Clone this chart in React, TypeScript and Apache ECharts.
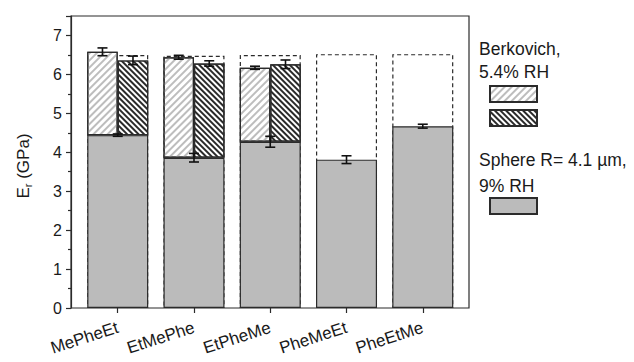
import React, { useEffect, useRef } from "react";
import * as echarts from "echarts";

const categories = ["MePheEt", "EtMePhe", "EtPheMe", "PheMeEt", "PheEtMe"];
const sphereValues = [4.44, 3.86, 4.27, 3.81, 4.67];
const sphereErrors = [0.03, 0.11, 0.14, 0.1, 0.05];
const berkLightValues: (number | null)[] = [6.58, 6.44, 6.17, null, null];
const berkLightErrors: (number | null)[] = [0.1, 0.05, 0.04, null, null];
const berkDarkValues: (number | null)[] = [6.36, 6.28, 6.26, null, null];
const berkDarkErrors: (number | null)[] = [0.11, 0.07, 0.11, null, null];
const referenceValues = [6.5, 6.48, 6.5, 6.52, 6.52];
const yTicks = [0, 1, 2, 3, 4, 5, 6, 7];

const FONT = "'Liberation Sans', Arial, sans-serif";
const INK = "#2b2b2b";

export default function App() {
  const ref = useRef<HTMLDivElement>(null);
  useEffect(() => {
    if (!ref.current) return;
    const chart = echarts.init(ref.current, undefined, { renderer: "svg" });

    const errData: number[][] = [];
    categories.forEach((_, i) => {
      errData.push([i, sphereValues[i], sphereErrors[i], 0]);
      if (berkLightValues[i] != null) errData.push([i, berkLightValues[i] as number, berkLightErrors[i] as number, -0.2]);
      if (berkDarkValues[i] != null) errData.push([i, berkDarkValues[i] as number, berkDarkErrors[i] as number, 0.2]);
    });
    const lightDiff = berkLightValues.map((v, i) => (v == null ? null : v - sphereValues[i]));
    const darkDiff = berkDarkValues.map((v, i) => (v == null ? null : v - sphereValues[i]));

    const lightDecal = {
      symbol: "rect",
      symbolSize: 1,
      dashArrayX: [1, 0],
      dashArrayY: [1.6, 2.6],
      rotation: -Math.PI / 4,
      color: "#bdbdbd",
    };
    const darkDecal = {
      symbol: "rect",
      symbolSize: 1,
      dashArrayX: [1, 0],
      dashArrayY: [2, 2],
      rotation: Math.PI / 4,
      color: "#2a2a2a",
    };

    const option: any = {
      animation: false,
      textStyle: { fontFamily: FONT },
      grid: [
        { left: 71, top: 16, width: 398, height: 292, show: true, borderColor: INK, borderWidth: 1.2, backgroundColor: "transparent" },
        { left: 79.6, top: 16, width: 381.3, height: 292 },
      ],
      xAxis: [
        { gridIndex: 0, type: "value", min: 0, max: 1, show: false },
        {
          gridIndex: 1,
          type: "category",
          data: categories,
          axisLine: { show: false },
          axisTick: { show: true, alignWithLabel: true, length: 5, lineStyle: { color: INK, width: 1.2 } },
          axisLabel: { rotate: 18, margin: 19, fontSize: 17, color: "#1a1a1a", fontFamily: FONT },
          splitLine: { show: false },
        },
        { gridIndex: 1, type: "category", data: categories, show: false },
      ],
      yAxis: [
        {
          gridIndex: 0,
          type: "value",
          min: 0,
          max: 7.5,
          interval: 1,
          axisLine: { show: true, lineStyle: { color: INK, width: 1.2 } },
          axisTick: { show: true, length: 5, lineStyle: { color: INK, width: 1.2 } },
          minorTick: { show: true, splitNumber: 2, length: 3, lineStyle: { color: INK, width: 1.2 } },
          axisLabel: {
            margin: 9,
            fontSize: 16,
            color: "#1a1a1a",
            fontFamily: FONT,
            formatter: (v: number) => (yTicks.includes(v) ? String(v) : ""),
          },
          splitLine: { show: false },
        },
        { gridIndex: 1, type: "value", min: 0, max: 7.5, show: false },
      ],
      legend: [
        {
          data: ["Berkovich light", "Berkovich dark"],
          orient: "vertical",
          left: 489,
          top: 85,
          padding: 0,
          itemWidth: 47,
          itemHeight: 16,
          itemGap: 6,
          icon: "rect",
          selectedMode: false,
          formatter: () => "",
          textStyle: { fontSize: 1 },
        },
        {
          data: ["Sphere"],
          orient: "vertical",
          left: 489,
          top: 197,
          padding: 0,
          itemWidth: 47,
          itemHeight: 16,
          icon: "rect",
          selectedMode: false,
          formatter: () => "",
          textStyle: { fontSize: 1 },
        },
      ],
      graphic: [
        {
          type: "text",
          x: 23,
          y: 166,
          rotation: Math.PI / 2,
          style: {
            text: "{e|E}{s|r}{e| (GPa)}",
            align: "center",
            verticalAlign: "middle",
            fill: "#1a1a1a",
            fontSize: 17,
            fontFamily: FONT,
            rich: {
              e: { fontSize: 17, fontFamily: FONT, fill: "#1a1a1a" },
              s: { fontSize: 11, fontFamily: FONT, fill: "#1a1a1a", padding: [9, 0, 0, 0] },
            },
          },
        },
        { type: "text", x: 479, y: 40, style: { text: "Berkovich,", fontSize: 17.5, fontFamily: FONT, fill: "#1a1a1a", verticalAlign: "top" } },
        { type: "text", x: 479, y: 63, style: { text: "5.4% RH", fontSize: 17.5, fontFamily: FONT, fill: "#1a1a1a", verticalAlign: "top" } },
        { type: "text", x: 479, y: 151, style: { text: "Sphere R= 4.1 µm,", fontSize: 17.5, fontFamily: FONT, fill: "#1a1a1a", verticalAlign: "top" } },
        { type: "text", x: 479, y: 177, style: { text: "9% RH", fontSize: 17.5, fontFamily: FONT, fill: "#1a1a1a", verticalAlign: "top" } },
      ],
      series: [
        {
          name: "Reference",
          type: "bar",
          xAxisIndex: 1,
          yAxisIndex: 1,
          data: referenceValues,
          barWidth: "80%",
          barGap: "-100%",
          silent: true,
          itemStyle: { color: "rgba(0,0,0,0)", borderColor: INK, borderWidth: 1.2, borderType: [4, 3] },
        },
        {
          name: "Sphere",
          type: "bar",
          xAxisIndex: 1,
          yAxisIndex: 1,
          data: sphereValues,
          barWidth: "80%",
          barGap: "-100%",
          itemStyle: { color: "#bbbbbb", borderColor: INK, borderWidth: 1.2 },
        },
        {
          name: "baseL",
          type: "bar",
          xAxisIndex: 2,
          yAxisIndex: 1,
          stack: "L",
          data: sphereValues,
          barWidth: "40%",
          barGap: "0%",
          silent: true,
          itemStyle: { color: "rgba(0,0,0,0)", borderWidth: 0 },
        },
        {
          name: "Berkovich light",
          type: "bar",
          xAxisIndex: 2,
          yAxisIndex: 1,
          stack: "L",
          data: lightDiff,
          barWidth: "40%",
          barGap: "0%",
          itemStyle: { color: "#ffffff", borderColor: INK, borderWidth: 1.2, decal: lightDecal },
        },
        {
          name: "baseD",
          type: "bar",
          xAxisIndex: 2,
          yAxisIndex: 1,
          stack: "D",
          data: sphereValues,
          barWidth: "40%",
          barGap: "0%",
          silent: true,
          itemStyle: { color: "rgba(0,0,0,0)", borderWidth: 0 },
        },
        {
          name: "Berkovich dark",
          type: "bar",
          xAxisIndex: 2,
          yAxisIndex: 1,
          stack: "D",
          data: darkDiff,
          barWidth: "40%",
          barGap: "0%",
          itemStyle: { color: "#ffffff", borderColor: INK, borderWidth: 1.2, decal: darkDecal },
        },
        {
          name: "errors",
          type: "custom",
          xAxisIndex: 1,
          yAxisIndex: 1,
          z: 10,
          silent: true,
          data: errData,
          renderItem: (params: any, api: any) => {
            const i = api.value(0);
            const v = api.value(1);
            const e = api.value(2);
            const off = api.value(3);
            const band = api.size([1, 0])[0];
            const x = api.coord([i, v])[0] + off * band;
            const yt = api.coord([i, v + e])[1];
            const yb = api.coord([i, v - e])[1];
            const cap = 5;
            const st = { stroke: "#111", lineWidth: 1.6 };
            return {
              type: "group",
              children: [
                { type: "line", shape: { x1: x, y1: yt, x2: x, y2: yb }, style: st },
                { type: "line", shape: { x1: x - cap, y1: yt, x2: x + cap, y2: yt }, style: st },
                { type: "line", shape: { x1: x - cap, y1: yb, x2: x + cap, y2: yb }, style: st },
              ],
            };
          },
        },
      ],
    };
    chart.setOption(option);
    return () => chart.dispose();
  }, []);
  return (
    <div
      ref={ref}
      style={{ position: "fixed", left: 0, top: 0, width: 634, height: 362, background: "#fff" }}
    />
  );
}
